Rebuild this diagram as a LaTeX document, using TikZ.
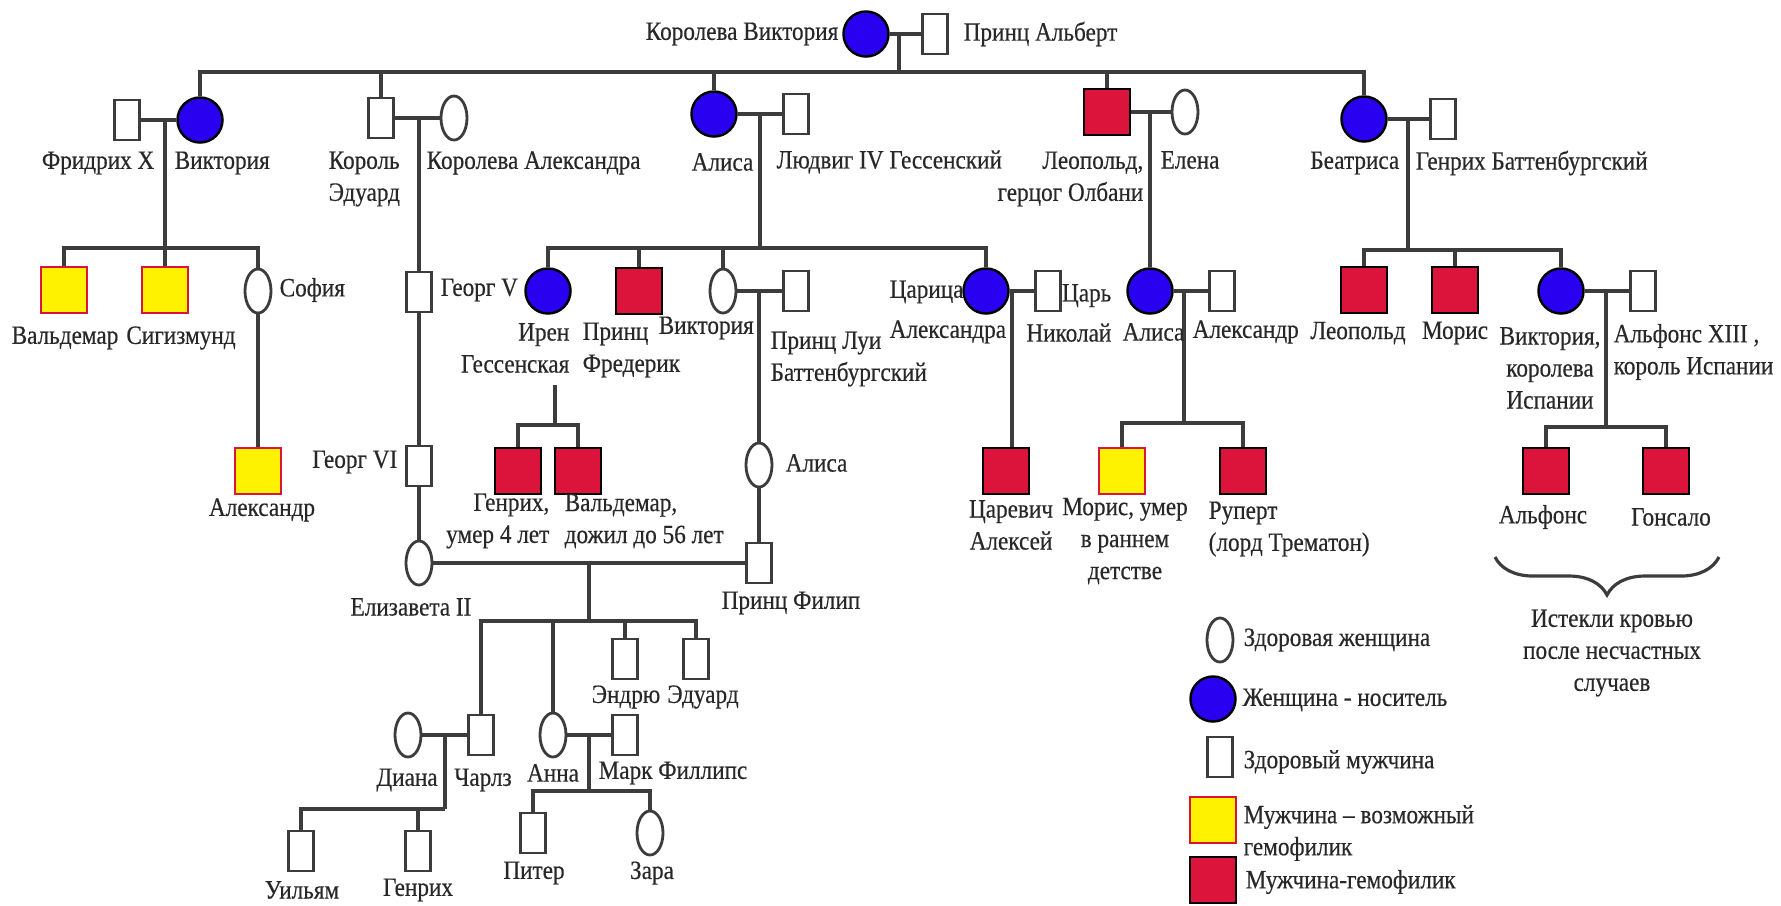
\documentclass[tikz,border=0pt]{standalone}
\usepackage{fontspec}
\setmainfont{Liberation Serif}[FakeStretch=0.88,FakeBold=0.4]
\usetikzlibrary{positioning}
\usetikzlibrary{shapes.geometric}
\usetikzlibrary{decorations.pathreplacing}
\definecolor{carblue}{RGB}{42,0,240}
\definecolor{hemred}{RGB}{220,20,60}
\definecolor{linec}{RGB}{60,60,60}
\definecolor{txtc}{RGB}{40,40,40}
\newcommand{\lblfont}{\fontsize{7.5}{9.1}\selectfont}

\begin{document}
\begin{tikzpicture}[x=0.01cm, y=-0.01cm]
		
		\tikzset{female/.style = {ellipse,draw=linec,line width=0.8pt,fill=white,minimum width=0.26cm,minimum height=0.44cm,inner sep=0}}
		\tikzset{male/.style = {rectangle,draw=linec,line width=0.8pt,fill=white,minimum width=0.25cm,minimum height=0.40cm,inner sep=0}}
		\tikzset{carrier/.style = {circle,draw=black,line width=0.7pt,fill=carblue,minimum size=0.45cm,inner sep=0}}
		\tikzset{hemo/.style = {rectangle,draw=black,line width=0.7pt,fill=hemred,minimum size=0.46cm,inner sep=0}}
		\tikzset{maybehemo/.style = {rectangle,draw=hemred,line width=0.6pt,fill=yellow,minimum size=0.46cm,inner sep=0}}
		\tikzset{lbl/.style = {inner sep=0,text=txtc,font=\lblfont}}
		\tikzset{link/.style = {draw=linec,line width=0.9pt}}
		
		\useasboundingbox (0,0) rectangle (1781,905);
		
		% generation I
		\node[carrier] (qv) at (866,34) {};
		\node[male] (albert) at (935,34) {};
		
		% generation II
		\node[male] (fridrikh) at (127,120) {};
		\node[carrier] (vic) at (200,120) {};
		\node[male] (edward) at (381,118) {};
		\node[female] (alexandra) at (454,118) {};
		\node[carrier] (alice) at (714,114) {};
		\node[male] (ludwig) at (796,114) {};
		\node[hemo] (leopold) at (1107,112) {};
		\node[female] (elena) at (1185,112) {};
		\node[carrier] (beatrice) at (1364,119) {};
		\node[male] (henry) at (1443,119) {};
		
		% generation III
		\node[maybehemo] (waldemar) at (64,290) {};
		\node[maybehemo] (sigismund) at (165,290) {};
		\node[female] (sofia) at (258,291) {};
		\node[male] (georgfive) at (419,292) {};
		\node[carrier] (irene) at (548,291) {};
		\node[hemo] (frederick) at (639,291) {};
		\node[female] (victoria) at (723,291) {};
		\node[male] (louis) at (796,291) {};
		\node[carrier] (tsarina) at (986,291) {};
		\node[male] (tsar) at (1048,291) {};
		\node[carrier] (alicealb) at (1150,291) {};
		\node[male] (alexander) at (1222,291) {};
		\node[hemo] (leopoldb) at (1364,290) {};
		\node[hemo] (maurice) at (1455,290) {};
		\node[carrier] (ena) at (1561,291) {};
		\node[male] (alfonso) at (1643,291) {};
		
		% generation IV
		\node[maybehemo] (alexandr) at (258,471) {};
		\node[male] (georgsix) at (419,466) {};
		\node[hemo] (heinrich) at (518,471) {};
		\node[hemo] (waldemarh) at (578,471) {};
		\node[female] (alicebat) at (759,465) {};
		\node[hemo] (alexei) at (1006,471) {};
		\node[maybehemo] (mauricealb) at (1122,471) {};
		\node[hemo] (rupert) at (1243,471) {};
		\node[hemo] (alfonsob) at (1546,471) {};
		\node[hemo] (gonzalo) at (1666,471) {};
		
		% generation V and later
		\node[female] (elizabeth) at (419,563) {};
		\node[male] (philip) at (759,563) {};
		\node[male] (andrew) at (625,659) {};
		\node[male] (edwardb) at (696,659) {};
		\node[female] (diana) at (408,735) {};
		\node[male] (charles) at (481,735) {};
		\node[female] (anne) at (553,735) {};
		\node[male] (mark) at (625,735) {};
		\node[male] (william) at (301,851) {};
		\node[male] (harry) at (418,851) {};
		\node[male] (peter) at (533,833) {};
		\node[female] (zara) at (650,833) {};
		
		% marriage and sibling points
		\coordinate (qvm) at (899,34);   \coordinate (qvb) at (899,72);
		\coordinate (frm) at (165,120);  \coordinate (frb) at (165,248);
		\coordinate (edm) at (419,118);
		\coordinate (alm) at (760,114);  \coordinate (alb) at (760,248);
		\coordinate (leom) at (1150,112);
		\coordinate (bem) at (1408,119); \coordinate (beb) at (1408,250);
		\coordinate (irm) at (555,385);  \coordinate (irb) at (555,425);
		\coordinate (vlm) at (759,291);
		\coordinate (tsm) at (1012,291);
		\coordinate (aam) at (1184,291); \coordinate (aab) at (1184,423);
		\coordinate (vem) at (1606,291); \coordinate (veb) at (1606,427);
		\coordinate (epm) at (589,563);  \coordinate (epb) at (589,621);
		\coordinate (cdm) at (445,735);  \coordinate (cdb) at (445,809);
		\coordinate (amm) at (589,735);  \coordinate (amb) at (589,791);
		
		%edges
		\draw[link] (qv) -- (albert);
		\draw[link] (qvm) -- (qvb);
		\draw[link] (vic.north) |- (qvb);
		\draw[link] (edward.north) |- (qvb);
		\draw[link] (alice.north) |- (qvb);
		\draw[link] (leopold.north) |- (qvb);
		\draw[link] (beatrice.north) |- (qvb);
		
		\draw[link] (fridrikh) -- (vic);
		\draw[link] (frm) -- (frb);
		\draw[link] (waldemar.north) |- (frb);
		\draw[link] (sigismund.north) |- (frb);
		\draw[link] (sofia.north) |- (frb);
		\draw[link] (sofia) -- (alexandr);
		
		\draw[link] (edward) -- (alexandra);
		\draw[link] (edm) -- (georgfive);
		\draw[link] (georgfive) -- (georgsix);
		\draw[link] (georgsix) -- (elizabeth);
		
		\draw[link] (alice) -- (ludwig);
		\draw[link] (alm) -- (alb);
		\draw[link] (irene.north) |- (alb);
		\draw[link] (frederick.north) |- (alb);
		\draw[link] (victoria.north) |- (alb);
		\draw[link] (tsarina.north) |- (alb);
		
		\draw[link] (irm) -- (irb);
		\draw[link] (heinrich.north) |- (irb);
		\draw[link] (waldemarh.north) |- (irb);
		
		\draw[link] (victoria) -- (louis);
		\draw[link] (vlm) -- (alicebat);
		\draw[link] (alicebat) -- (philip);
		
		\draw[link] (tsarina) -- (tsar);
		\draw[link] (tsm) -- (tsm |- alexei.north);
		
		\draw[link] (leopold) -- (elena);
		\draw[link] (leom) -- (alicealb);
		\draw[link] (alicealb) -- (alexander);
		\draw[link] (aam) -- (aab);
		\draw[link] (mauricealb.north) |- (aab);
		\draw[link] (rupert.north) |- (aab);
		
		\draw[link] (beatrice) -- (henry);
		\draw[link] (bem) -- (beb);
		\draw[link] (leopoldb.north) |- (beb);
		\draw[link] (maurice.north) |- (beb);
		\draw[link] (ena.north) |- (beb);
		\draw[link] (ena) -- (alfonso);
		\draw[link] (vem) -- (veb);
		\draw[link] (alfonsob.north) |- (veb);
		\draw[link] (gonzalo.north) |- (veb);
		
		\draw[link] (elizabeth) -- (philip);
		\draw[link] (epm) -- (epb);
		\draw[link] (charles.north) |- (epb);
		\draw[link] (anne.north) |- (epb);
		\draw[link] (andrew.north) |- (epb);
		\draw[link] (edwardb.north) |- (epb);
		
		\draw[link] (diana) -- (charles);
		\draw[link] (cdm) -- (cdb);
		\draw[link] (william.north) |- (cdb);
		\draw[link] (harry.north) |- (cdb);
		
		\draw[link] (anne) -- (mark);
		\draw[link] (amm) -- (amb);
		\draw[link] (peter.north) |- (amb);
		\draw[link] (zara.north) |- (amb);
		
		% names
		\node[lbl, anchor=east] (qvlbl) at (839,34) {Королева Виктория};
		\node[lbl, anchor=west] (albertlbl) at (963,34) {Принц Альберт};
		\node[lbl, anchor=east] (fridrikhlbl) at (155,163) {Фридрих X};
		\node[lbl, anchor=west] (viclbl) at (174,163) {Виктория};
		\node[lbl, anchor=west, align=left] (edwardlbl) at (328,179) {Король\\Эдуард};
		\node[lbl, anchor=west] (alexandralbl) at (426,163) {Королева Александра};
		\node[lbl, anchor=west] (alicelbl) at (691,162) {Алиса};
		\node[lbl, anchor=west] (ludwiglbl) at (776,162) {Людвиг IV Гессенский};
		\node[lbl, anchor=east, align=right] (leopoldlbl) at (1144,179) {Леопольд,\\герцог Олбани};
		\node[lbl, anchor=west] (elenalbl) at (1160,160) {Елена};
		\node[lbl, anchor=east] (beatricelbl) at (1400,163) {Беатриса};
		\node[lbl, anchor=west] (henrylbl) at (1415,163) {Генрих Баттенбургский};
		
		\node[lbl] (waldemarlbl) at (65,338) {Вальдемар};
		\node[lbl] (sigismundlbl) at (181,338) {Сигизмунд};
		\node[lbl, anchor=west] (sofialbl) at (279,290) {София};
		\node[lbl, anchor=west] (georgfivelbl) at (440,290) {Георг V};
		\node[lbl, anchor=east, align=right] (irenelbl) at (570,348) {Ирен\\Гессенская};
		\node[lbl, anchor=west, align=left] (frederilbl) at (582,350) {Принц\\Фредерик};
		\node[lbl, anchor=west] (victorialbl) at (658,328) {Виктория};
		\node[lbl, anchor=west, align=left] (louislbl) at (770,359) {Принц Луи\\Баттенбургский};
		\node[lbl, anchor=west, align=left] (tsarinalbl) at (889,312) {Царица\\[2.3pt]Александра};
		\node[lbl, anchor=east, align=right] (tsarlbl) at (1112,313) {Царь\\[2.3pt]Николай};
		\node[lbl, anchor=west] (alicealblbl) at (1122,332) {Алиса};
		\node[lbl, anchor=west] (alexanderlbl) at (1192,332) {Александр};
		\node[lbl] (leopoldblbl) at (1358,333) {Леопольд};
		\node[lbl] (mauricelbl) at (1455,333) {Морис};
		\node[lbl, align=center] (enalbl) at (1550,368) {Виктория,\\королева\\Испании};
		\node[lbl, anchor=west, align=left] (alfonsolbl) at (1613,352) {Альфонс XIII ,\\король Испании};
		
		\node[lbl] (alexandrlbl) at (262,510) {Александр};
		\node[lbl, anchor=east] (georgsixlbl) at (398,462) {Георг VI};
		\node[lbl, anchor=east, align=right] (heinrichlbl) at (550,521) {Генрих,\\умер 4 лет};
		\node[lbl, anchor=west, align=left] (waldemarhlbl) at (564,521) {Вальдемар,\\дожил до 56 лет};
		\node[lbl, anchor=west] (alicebatlbl) at (785,463) {Алиса};
		\node[lbl, align=center] (alexeilbl) at (1011,525) {Царевич\\Алексей};
		\node[lbl, align=center] (mauricealblbl) at (1125,541) {Морис, умер\\в раннем\\детстве};
		\node[lbl, anchor=west, align=left] (rupertlbl) at (1208,529) {Руперт\\(лорд Трематон)};
		\node[lbl] (alfonsoblbl) at (1543,517) {Альфонс};
		\node[lbl] (gonzalolbl) at (1671,517) {Гонсало};
		
		\node[lbl] (elizabethlbl) at (411,607) {Елизавета II};
		\node[lbl] (philiplbl) at (791,603) {Принц Филип};
		\node[lbl] (andrewlbl) at (626,697) {Эндрю};
		\node[lbl] (edwardblbl) at (703,697) {Эдуард};
		\node[lbl] (dianalbl) at (407,780) {Диана};
		\node[lbl] (charleslbl) at (483,780) {Чарлз};
		\node[lbl] (annelbl) at (553,773) {Анна};
		\node[lbl] (marklbl) at (673,773) {Марк Филлипс};
		\node[lbl] (williamlbl) at (302,890) {Уильям};
		\node[lbl] (harrylbl) at (418,890) {Генрих};
		\node[lbl] (peterlbl) at (534,873) {Питер};
		\node[lbl] (zaralbl) at (652,873) {Зара};
		
		% brace
		\coordinate (brr) at (1719,557);
		\coordinate (brl) at (1495,557);
		\draw[link, decorate, decoration={brace, amplitude=0.38cm, aspect=0.5}] (brr) -- (brl);
		\node[lbl, align=center] (bledlbl) at (1612,653) {Истекли кровью\\после несчастных\\случаев};
		
		% legend
		\node[female] (lgf) at (1220,640) {};
		\node[lbl, anchor=west] (lgflbl) at (1243,640) {Здоровая женщина};
		\node[carrier] (lgc) at (1213,699) {};
		\node[lbl, anchor=west] (lgclbl) at (1242,700) {Женщина - носитель};
		\node[male] (lgm) at (1220,757) {};
		\node[lbl, anchor=west] (lgmlbl) at (1243,762) {Здоровый мужчина};
		\node[maybehemo] (lgy) at (1213,820) {};
		\node[lbl, anchor=west, align=left] (lgylbl) at (1243,833) {Мужчина – возможный\\гемофилик};
		\node[hemo] (lgr) at (1213,880) {};
		\node[lbl, anchor=west] (lgrlbl) at (1245,882) {Мужчина-гемофилик};
		
\end{tikzpicture}
\end{document}
